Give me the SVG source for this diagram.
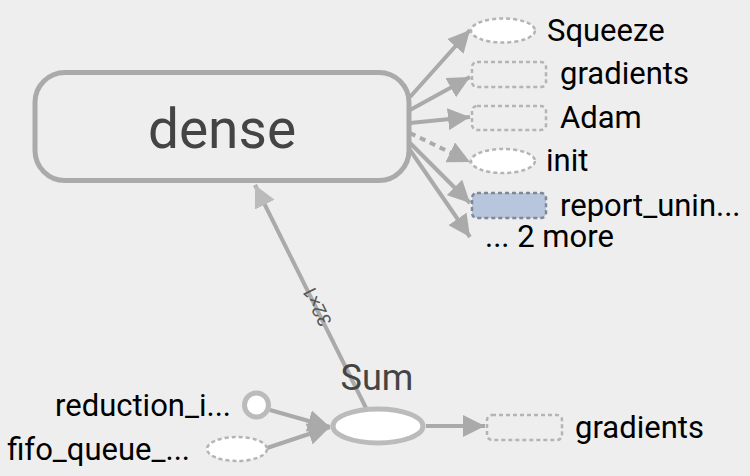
<svg xmlns="http://www.w3.org/2000/svg" width="750" height="476" viewBox="0 0 750 476">
<defs>
<marker id="ah" viewBox="0 0 10 10" refX="10" refY="5" markerWidth="5.5" markerHeight="5.5" markerUnits="strokeWidth" orient="auto"><path d="M0,0 L10,5 L0,10 z" fill="#aaaaaa"/></marker>
<marker id="ahl" viewBox="0 0 10 10" refX="10" refY="5" markerWidth="5.5" markerHeight="6" markerUnits="strokeWidth" orient="auto"><path d="M0,0 L10,5 L0,10 z" fill="#bbbbbb"/></marker>
</defs>
<style>
.lbl{font-family:Roboto,"Liberation Sans",sans-serif;font-size:31px;fill:#000}
.big{font-family:Roboto,"Liberation Sans",sans-serif;fill:#444}
.e{fill:none;stroke:#aaaaaa;stroke-width:4}
.dash{fill:#fff;stroke:#b4b4b4;stroke-width:2.5;stroke-dasharray:4,3}
.dashr{fill:none;stroke:#b4b4b4;stroke-width:2.5;stroke-dasharray:4,3}
</style>
<rect width="750" height="476" fill="#eeeeee"/>
<g id="edges">
<line class="e" x1="410" y1="97" x2="470" y2="30" marker-end="url(#ah)"/>
<line class="e" x1="410" y1="110" x2="470" y2="77" marker-end="url(#ah)"/>
<line class="e" x1="410" y1="123" x2="470" y2="117" marker-end="url(#ah)"/>
<line class="e" x1="410" y1="133" x2="470" y2="162" stroke-dasharray="6,5" marker-end="url(#ah)"/>
<line class="e" x1="410" y1="143" x2="470" y2="203" marker-end="url(#ah)"/>
<line class="e" x1="410" y1="150" x2="470" y2="237" marker-end="url(#ah)"/>
<line class="e" x1="366" y1="408" x2="255" y2="185" stroke="#bbbbbb" marker-end="url(#ahl)"/>
<text font-family="Roboto,'Liberation Sans',sans-serif" font-size="19" fill="#555" text-anchor="middle" dominant-baseline="central" transform="translate(317,306) rotate(-116.4)">32×1</text>
<line class="e" x1="270" y1="410" x2="330" y2="427" marker-end="url(#ah)"/>
<line class="e" x1="267" y1="448" x2="330" y2="427" marker-end="url(#ah)"/>
<line class="e" x1="426" y1="426" x2="485" y2="426" marker-end="url(#ah)"/>
</g>
<g id="dense">
<rect x="35" y="72.5" width="374" height="108" rx="30" fill="#eeeeee" stroke="#aaaaaa" stroke-width="5"/>
<text class="big" x="222" y="148" font-size="55" text-anchor="middle">dense</text>
</g>
<g id="squeeze">
<ellipse class="dash" cx="503" cy="30.5" rx="32" ry="12"/>
<text class="lbl" x="547" y="41">Squeeze</text>
</g>
<g id="gradients1">
<rect class="dashr" x="472" y="62" width="74" height="25" rx="5"/>
<text class="lbl" x="560" y="84">gradients</text>
</g>
<g id="adam">
<rect class="dashr" x="472" y="106" width="74" height="24" rx="5"/>
<text class="lbl" x="560" y="128">Adam</text>
</g>
<g id="init">
<ellipse class="dash" cx="503" cy="161" rx="32" ry="12"/>
<text class="lbl" x="546" y="171">init</text>
</g>
<g id="report">
<rect x="472" y="193" width="74" height="25" rx="5" fill="#b8c6dd" stroke="#7d8899" stroke-width="2.5" stroke-dasharray="4,3"/>
<text class="lbl" x="560" y="216">report_unin...</text>
</g>
<g id="more">
<text class="lbl" x="485" y="247">... 2 more</text>
</g>
<g id="sum">
<ellipse cx="378" cy="426" rx="45" ry="17" fill="#fff" stroke="#bbbbbb" stroke-width="5"/>
<text class="big" x="377" y="390" font-size="36" text-anchor="middle">Sum</text>
</g>
<g id="reduction">
<circle cx="256.5" cy="405" r="12" fill="#fff" stroke="#bbbbbb" stroke-width="5"/>
<text class="lbl" x="231" y="416" text-anchor="end">reduction_i...</text>
</g>
<g id="fifo">
<ellipse class="dash" cx="237" cy="449" rx="30" ry="12"/>
<text class="lbl" x="190" y="460" text-anchor="end">fifo_queue_...</text>
</g>
<g id="gradients2">
<rect class="dashr" x="487" y="415" width="75" height="25" rx="5"/>
<text class="lbl" x="575" y="438">gradients</text>
</g>
</svg>
